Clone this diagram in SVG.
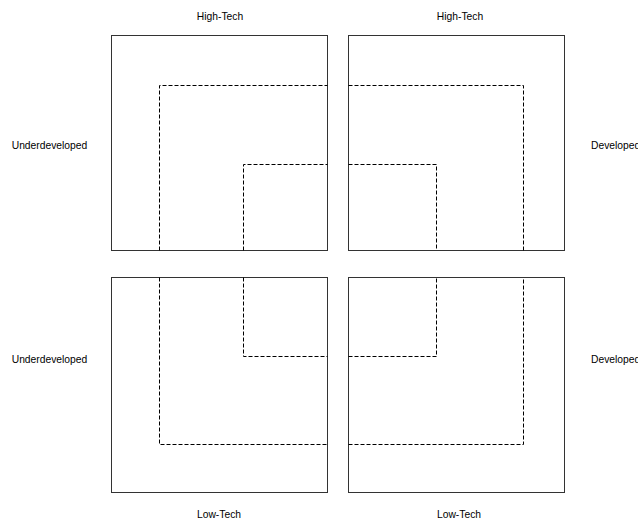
<svg xmlns="http://www.w3.org/2000/svg" width="638" height="522" viewBox="0 0 638 522">
<style>
.box{fill:none;stroke:#333;stroke-width:1}
.d{fill:none;stroke:#000;stroke-width:1;stroke-dasharray:4 2}
text{font-family:"Liberation Sans",Arial,sans-serif;font-size:10.3px;fill:#000}
.m{text-anchor:middle}
</style>
<rect width="638" height="522" fill="#fff"/>
<g id="quad-tl"><rect class="box" x="111.5" y="35.5" width="216" height="215"/></g>
<g id="quad-tr"><rect class="box" x="348.5" y="35.5" width="216" height="215"/></g>
<g id="quad-bl"><rect class="box" x="111.5" y="277.5" width="216" height="215"/></g>
<g id="quad-br"><rect class="box" x="348.5" y="277.5" width="216" height="215"/></g>
<g id="connectors">
<path class="d" d="M159.5 250.5V85.5H327.5"/>
<path class="d" d="M243.5 250.5V164.5H327.5"/>
<path class="d" d="M348.5 85.5H523.5V250.5"/>
<path class="d" d="M348.5 164.5H436.5V250.5"/>
<path class="d" d="M159.5 277.5V444.5H327.5"/>
<path class="d" d="M243.5 277.5V356.5H327.5"/>
<path class="d" d="M348.5 444.5H523.5V277.5"/>
<path class="d" d="M348.5 356.5H436.5V277.5"/>
</g>
<g id="labels">
<text class="m" x="220" y="20">High-Tech</text>
<text class="m" x="460" y="20">High-Tech</text>
<text class="m" x="49.5" y="149">Underdeveloped</text>
<text class="m" x="49.5" y="362.5">Underdeveloped</text>
<text x="591" y="149">Developed</text>
<text x="591" y="362.5">Developed</text>
<text class="m" x="219" y="518">Low-Tech</text>
<text class="m" x="459" y="518">Low-Tech</text>
</g>
</svg>
